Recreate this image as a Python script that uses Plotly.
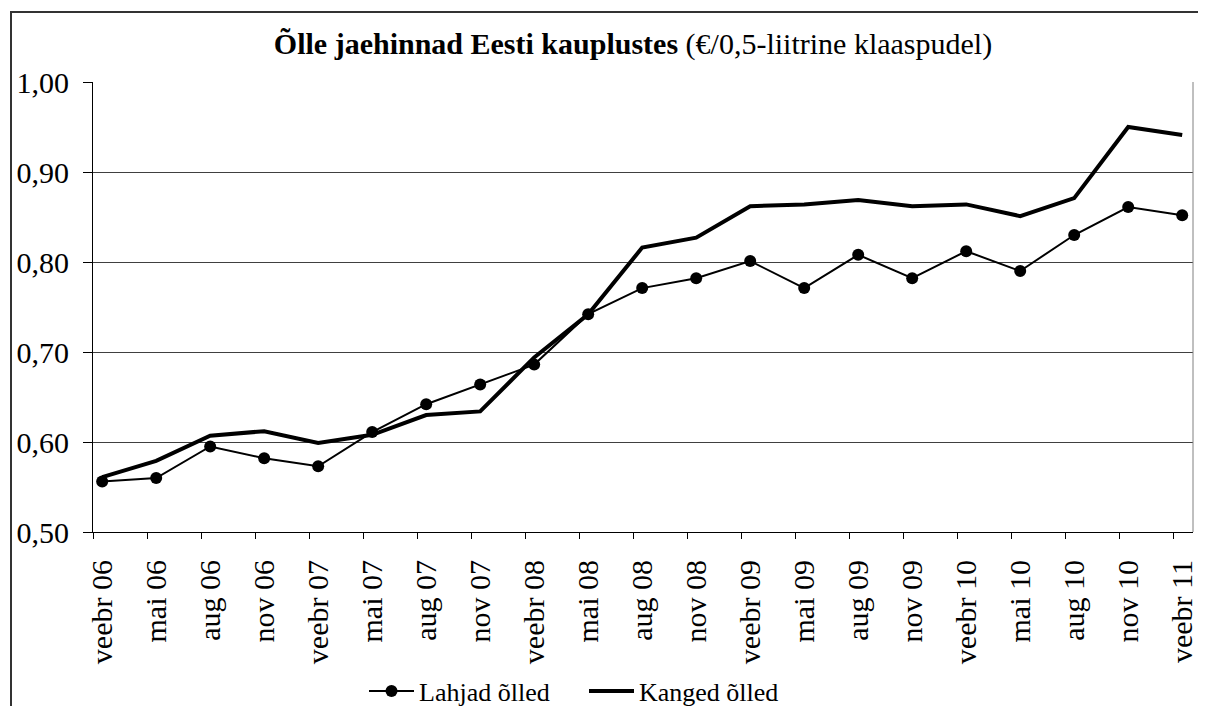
import plotly.graph_objects as go

categories = ["veebr 06", "mai 06", "aug 06", "nov 06", "veebr 07", "mai 07", "aug 07",
              "nov 07", "veebr 08", "mai 08", "aug 08", "nov 08", "veebr 09", "mai 09",
              "aug 09", "nov 09", "veebr 10", "mai 10", "aug 10", "nov 10", "veebr 11"]
lahjad = [0.556, 0.560, 0.595, 0.582, 0.573, 0.611, 0.642, 0.664, 0.686, 0.742, 0.771,
          0.782, 0.801, 0.771, 0.808, 0.782, 0.812, 0.790, 0.830, 0.861, 0.852]
kanged = [0.561, 0.579, 0.607, 0.612, 0.599, 0.608, 0.630, 0.634, 0.694, 0.742, 0.816,
          0.827, 0.862, 0.864, 0.869, 0.862, 0.864, 0.851, 0.871, 0.950, 0.941]
y_ticks = [0.5, 0.6, 0.7, 0.8, 0.9, 1.0]

FONT = "Liberation Serif"
# the page has an 8px body margin; work in page pixels and convert
OFF = 8
PAGE_W, PAGE_H = 1206, 706
W, H = PAGE_W - OFF, PAGE_H - OFF
PL, PR, PT, PB = 93, 1193, 82, 532          # plot area in page pixels
ML, MR, MT, MB = PL - OFF, PAGE_W - PR, PT - OFF, PAGE_H - PB
PW, PH = PR - PL, PB - PT

xs = list(range(len(categories)))
off = 0.17

fig = go.Figure()
fig.add_trace(go.Scatter(
    x=xs, y=lahjad, name="Lahjad õlled", mode="lines+markers",
    line=dict(color="black", width=2),
    marker=dict(symbol="circle", size=12, color="black"),
))
fig.add_trace(go.Scatter(
    x=xs, y=kanged, name="Kanged õlled", mode="lines",
    line=dict(color="black", width=4),
))

def px2paper_x(px):
    return (px - PL) / PW

def px2paper_y(py):
    return (PB - py) / PH

shapes = [
    dict(type="line", xref="paper", yref="paper", x0=1, x1=1, y0=0, y1=1,
         line=dict(color="#808080", width=1)),
    dict(type="line", xref="paper", yref="paper",
         x0=px2paper_x(11), x1=px2paper_x(11), y0=px2paper_y(12), y1=px2paper_y(720),
         line=dict(color="#333333", width=2)),
    dict(type="line", xref="paper", yref="paper",
         x0=px2paper_x(10), x1=px2paper_x(1220), y0=px2paper_y(12), y1=px2paper_y(12),
         line=dict(color="#333333", width=2)),
]

fig.update_layout(
    width=W, height=H,
    margin=dict(l=ML, r=MR, t=MT, b=MB, autoexpand=False),
    paper_bgcolor="white", plot_bgcolor="white",
    separators=", ",
    font=dict(family=FONT, color="black", size=26),
    title=dict(
        text="<b>Õlle jaehinnad Eesti kauplustes</b> (€/0,5-liitrine klaaspudel)",
        x=px2paper_x(633), xref="paper", xanchor="center",
        y=1 - (43 - OFF) / H, yanchor="middle",
        font=dict(family=FONT, size=30, color="black"),
    ),
    showlegend=True,
    legend=dict(
        orientation="h", x=px2paper_x(584), xanchor="center",
        y=px2paper_y(691), yanchor="middle",
        font=dict(family=FONT, size=26, color="black"),
        bgcolor="rgba(0,0,0,0)", itemwidth=45, entrywidth=160, tracegroupgap=0,
    ),
    shapes=shapes,
    xaxis=dict(
        range=[-off, 20.2], automargin=False,
        tickmode="array", tickvals=xs, ticktext=categories,
        tickangle=-90, ticks="", showgrid=False, zeroline=False,
        showline=True, linecolor="black", linewidth=1,
        ticklabelstandoff=15,
        tickfont=dict(family=FONT, size=30, color="black"),
        minor=dict(tickmode="array", tickvals=[i - off for i in xs],
                   ticks="outside", ticklen=6, tickcolor="black", tickwidth=1,
                   showgrid=False),
    ),
    yaxis=dict(
        range=[0.5, 1.0], tickmode="array", tickvals=y_ticks, automargin=False,
        tickformat=".2f", ticks="outside", ticklen=9, tickcolor="black",
        showgrid=True, gridcolor="#404040", gridwidth=1, zeroline=False,
        showline=True, linecolor="black", linewidth=1,
        ticklabelstandoff=8,
        tickfont=dict(family=FONT, size=30, color="black"),
    ),
)

fig.write_html("out.html")
